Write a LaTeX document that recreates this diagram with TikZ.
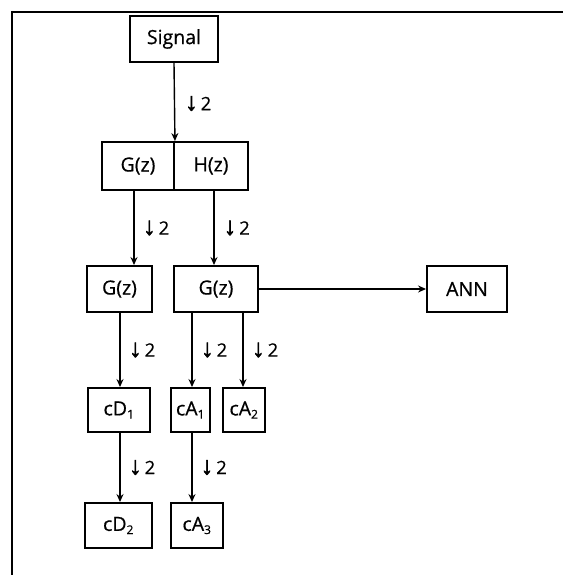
\documentclass[tikz,border=0pt]{standalone}
\usepackage{fontspec}
\newfontfamily\lblfont{Open Sans}[FakeBold=0.6]
\newfontfamily\arrfont{Liberation Sans}[FakeBold=2.2]
\usetikzlibrary{arrows.meta}
\tikzset{
  box/.style={draw, line width=1.9pt, inner sep=0pt, font=\lblfont\fontsize{19.5}{22}\selectfont},
  conn/.style={line width=1.4pt, -{Stealth[length=8pt,width=7pt]}},
  thick conn/.style={line width=2.3pt, -{Stealth[length=8pt,width=7pt]}},
  dlabel/.style={anchor=west, inner sep=0pt, font=\lblfont\fontsize{18.5}{20}\selectfont},
  frame/.style={line width=2.6pt}
}
\newcommand{\dsub}[1]{\textsubscript{\fontsize{12}{13}\selectfont #1}}
\newcommand{\dtwo}{{\arrfont\fontsize{25}{26}\selectfont ↓}\hspace{3pt}2}
\begin{document}
\begin{tikzpicture}[x=1pt,y=-1pt]
\useasboundingbox (0,0) rectangle (563,575);
\draw[frame] (11,12) -- (563,12);
\draw[frame] (12,11) -- (12,575);

\node[box, minimum width=88pt, minimum height=46pt] (sig) at (174,39) {Signal};
\node[box, minimum width=72pt, minimum height=48pt] (gz) at (138,166) {G(z)};
\node[box, minimum width=74pt, minimum height=48pt] (hz) at (211,166) {H(z)};

\node[box, minimum width=65pt, minimum height=46pt] (g2l) at (119.5,289) {G(z)};
\node[box, minimum width=84pt, minimum height=46pt] (g2r) at (216,289) {G(z)};
\node[box, minimum width=80pt, minimum height=46pt] (ann) at (467,289) {ANN};

\node[box, minimum width=62pt, minimum height=44pt] (cd1) at (119,410) {cD\dsub{1}};
\node[box, minimum width=39pt, minimum height=44pt] (ca1) at (190.5,410) {cA\dsub{1}};
\node[box, minimum width=42pt, minimum height=44pt] (ca2) at (244,410) {cA\dsub{2}};

\node[box, minimum width=67pt, minimum height=45pt] (cd2) at (118.5,525.5) {cD\dsub{2}};
\node[box, minimum width=52pt, minimum height=45pt] (ca3) at (197,525.5) {cA\dsub{3}};

% connectors
\draw[conn] (sig.south) -- (gz.north east) node[dlabel, pos=0.52, xshift=10pt] {\dtwo};
\draw[thick conn] ([xshift=-4pt]gz.south) -- ([xshift=-4pt]gz.south |- g2l.north) node[dlabel, midway, xshift=8pt] {\dtwo};
\draw[conn] ([xshift=3pt]hz.south) -- ([xshift=3pt]hz.south |- g2r.north) node[dlabel, midway, xshift=9pt] {\dtwo};
\draw[conn] (g2r.east) -- (ann.west);

\draw[thick conn] ([xshift=0.5pt]g2l.south) -- ([xshift=0.5pt]g2l.south |- cd1.north) node[dlabel, midway, xshift=8pt] {\dtwo};
\draw[thick conn] ([xshift=1.5pt]ca1.north |- g2r.south) -- ([xshift=1.5pt]ca1.north) node[dlabel, midway, xshift=8pt] {\dtwo};
\draw[thick conn] ([xshift=-1pt]ca2.north |- g2r.south) -- ([xshift=-1pt]ca2.north) node[dlabel, midway, xshift=8pt] {\dtwo};

\draw[thick conn] ([xshift=1pt]cd1.south) -- ([xshift=1pt]cd1.south |- cd2.north) node[dlabel, midway, xshift=8pt] {\dtwo};
\draw[conn] ([xshift=1.5pt]ca1.south) -- ([xshift=1.5pt]ca1.south |- ca3.north) node[dlabel, midway, xshift=8pt] {\dtwo};
\end{tikzpicture}
\end{document}
